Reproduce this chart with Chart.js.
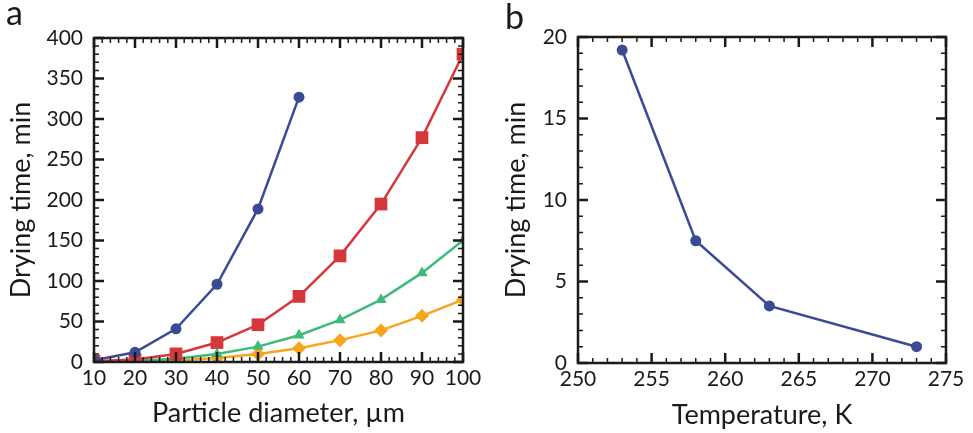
<!DOCTYPE html>
<html>
<head>
<meta charset="utf-8">
<script src="https://cdn.jsdelivr.net/npm/chart.js@4.4.1/dist/chart.umd.min.js"></script>
<style>
    body { margin: 0; background: #fff; }
    #wrap { position: relative; width: 973px; height: 433px; overflow: hidden; }
    canvas { position: absolute; top: 0; }
    #sizeChart { left: 0; }
    #tempChart { left: 486px; }
</style>
</head>
<body>
<div id="wrap">
    <canvas id="sizeChart" width="486" height="433"></canvas>
    <canvas id="tempChart" width="487" height="433"></canvas>
</div>
<script>
// 입자 크기별 건조 시간 (a)
const diameters = [10, 20, 30, 40, 50, 60, 70, 80, 90, 100];
const timeBlue = [2, 12, 41, 96, 189, 327];
const timeRed = [1, 3, 10, 24, 46, 81, 131, 195, 277, 380];
const timeGreen = [0.5, 1.5, 4, 10, 19, 33, 52, 77, 110, 150];
const timeOrange = [0.3, 1, 2, 5, 10, 17, 27, 39, 57, 77];

// 온도별 건조 시간 (b)
const temps = [253, 258, 263, 273];
const timeTemp = [19.2, 7.5, 3.5, 1.0];

const FONT = 'Lato, sans-serif';
const INK = '#1a1a1a';

function toPoints(xs, ys) {
    return ys.map((v, i) => ({ x: xs[i], y: v }));
}

function series(ys, xs, color, style, radius) {
    return {
        data: toPoints(xs, ys),
        borderColor: color,
        backgroundColor: color,
        borderWidth: 2.5,
        pointStyle: style,
        pointRadius: radius,
        pointHoverRadius: radius,
        pointBorderWidth: 0,
        tension: 0,
        clip: 0
    };
}

// 안쪽 눈금, 테두리, 축 제목, 패널 글자
function makeFrame(cfg) {
    return {
        id: 'frame_' + cfg.panel,
        afterDatasetsDraw(chart) {
            const { ctx, chartArea: a, scales: { x, y } } = chart;
            const isMajor = (v, step, base) => Math.abs(Math.round((v - base) / step) * step - (v - base)) < 1e-6;
            ctx.save();
            ctx.strokeStyle = INK;
            for (let v = x.min; v <= x.max + 1e-6; v += cfg.xMinor) {
                const px = x.getPixelForValue(v);
                const major = isMajor(v, cfg.xMajor, x.min);
                const len = major ? 10 : 5;
                ctx.lineWidth = major ? 2.5 : 1.5;
                ctx.beginPath();
                ctx.moveTo(px, a.bottom); ctx.lineTo(px, a.bottom - len);
                ctx.moveTo(px, a.top); ctx.lineTo(px, a.top + len);
                ctx.stroke();
            }
            for (let v = y.min; v <= y.max + 1e-6; v += cfg.yMinor) {
                const py = y.getPixelForValue(v);
                const major = isMajor(v, cfg.yMajor, y.min);
                const len = major ? 10 : 5;
                ctx.lineWidth = major ? 2.5 : 1.5;
                ctx.beginPath();
                ctx.moveTo(a.left, py); ctx.lineTo(a.left + len, py);
                ctx.moveTo(a.right, py); ctx.lineTo(a.right - len, py);
                ctx.stroke();
            }
            ctx.lineWidth = 2.5;
            ctx.strokeRect(a.left, a.top, a.right - a.left, a.bottom - a.top);

            // 축 제목
            ctx.fillStyle = INK;
            ctx.font = `27px ${FONT}`;
            ctx.textAlign = 'center';
            ctx.textBaseline = 'alphabetic';
            ctx.fillText(cfg.xTitle, (a.left + a.right) / 2, cfg.xTitleY);
            ctx.save();
            ctx.translate(cfg.yTitleX, (a.top + a.bottom) / 2);
            ctx.rotate(-Math.PI / 2);
            ctx.fillText(cfg.yTitle, 0, 0);
            ctx.restore();

            // 패널 글자
            ctx.font = `34px ${FONT}`;
            ctx.textAlign = 'left';
            ctx.fillText(cfg.panel, cfg.panelX, cfg.panelY);
            ctx.restore();
        }
    };
}

function axisOptions(cfg) {
    return {
        x: {
            type: 'linear',
            min: cfg.xMin, max: cfg.xMax,
            grid: { display: false, drawTicks: false, tickLength: 0 },
            border: { display: false },
            ticks: { stepSize: cfg.xStep, color: INK, font: { family: FONT, size: 21 }, padding: 4, maxRotation: 0 },
            afterFit: (scale) => { scale.height = cfg.xHeight; }
        },
        y: {
            type: 'linear',
            min: cfg.yMin, max: cfg.yMax,
            grid: { display: false, drawTicks: false, tickLength: 0 },
            border: { display: false },
            ticks: { stepSize: cfg.yStep, color: INK, font: { family: FONT, size: 21 }, padding: 11 },
            afterFit: (scale) => { scale.width = cfg.yWidth; }
        }
    };
}

new Chart(document.getElementById('sizeChart'), {
    type: 'line',
    data: {
        datasets: [
            series(timeBlue, diameters, '#3a4a94', 'circle', 5.5),
            series(timeRed, diameters, '#d5373b', 'rect', 9),
            series(timeGreen, diameters, '#3dbb7a', 'triangle', 6.5),
            series(timeOrange, diameters, '#f7a51c', 'rectRot', 7)
        ]
    },
    options: {
        responsive: false,
        animation: false,
        layout: { padding: { left: 0, right: 23, top: 38, bottom: 0 } },
        plugins: { legend: { display: false }, tooltip: { enabled: false } },
        scales: axisOptions({
            xMin: 10, xMax: 100, xStep: 10, xHeight: 71,
            yMin: 0, yMax: 400, yStep: 50, yWidth: 94
        })
    },
    plugins: [makeFrame({
        panel: 'a', panelX: 6, panelY: 25,
        xMinor: 2, xMajor: 10, yMinor: 10, yMajor: 50,
        xTitle: 'Particle diameter, µm', xTitleY: 422,
        yTitle: 'Drying time, min', yTitleX: 30
    })]
});

new Chart(document.getElementById('tempChart'), {
    type: 'line',
    data: {
        datasets: [
            series(timeTemp, temps, '#3a4a94', 'circle', 5.5)
        ]
    },
    options: {
        responsive: false,
        animation: false,
        layout: { padding: { left: 0, right: 27, top: 37, bottom: 0 } },
        plugins: { legend: { display: false }, tooltip: { enabled: false } },
        scales: axisOptions({
            xMin: 250, xMax: 275, xStep: 5, xHeight: 70,
            yMin: 0, yMax: 20, yStep: 5, yWidth: 92
        })
    },
    plugins: [makeFrame({
        panel: 'b', panelX: 19, panelY: 29,
        xMinor: 1, xMajor: 5, yMinor: 1, yMajor: 5,
        xTitle: 'Temperature, K', xTitleY: 424,
        yTitle: 'Drying time, min', yTitleX: 39
    })]
});
</script>
</body>
</html>
